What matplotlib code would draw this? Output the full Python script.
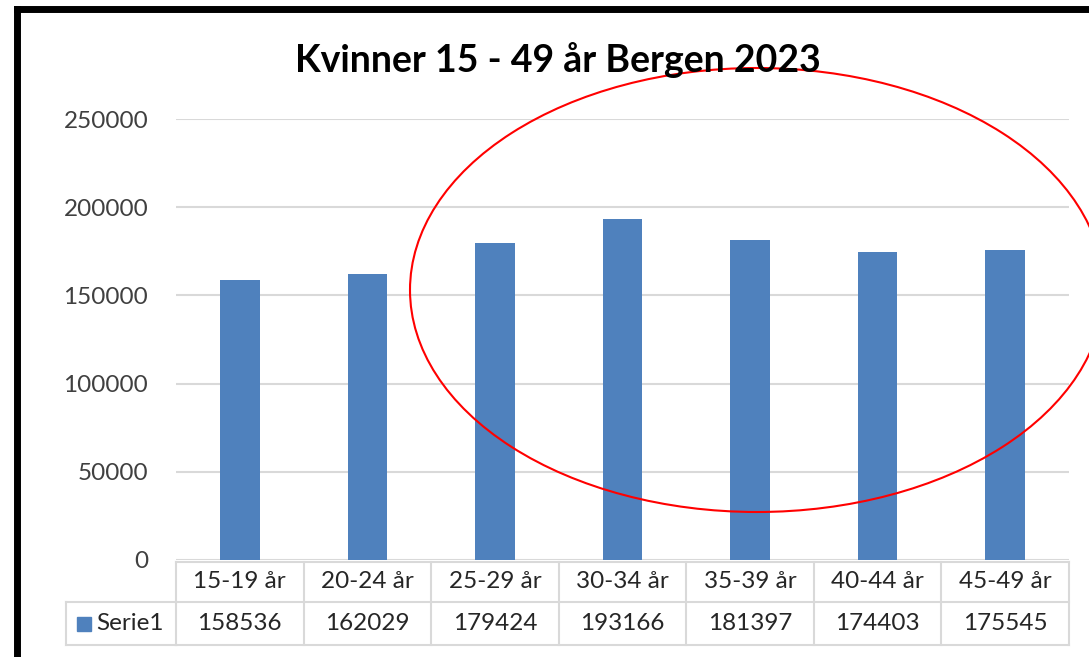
import matplotlib
matplotlib.use("Agg")
import matplotlib.pyplot as plt
from matplotlib.patches import Ellipse, Rectangle

# data
categories = ["15-19 år", "20-24 år", "25-29 år", "30-34 år", "35-39 år", "40-44 år", "45-49 år"]
values = [158536, 162029, 179424, 193166, 181397, 174403, 175545]
series_name = "Serie1"
yticks = [0, 50000, 100000, 150000, 200000, 250000]
title = "Kvinner 15 - 49 år Bergen 2023"

plt.rcParams['font.family'] = ['Lato', 'DejaVu Sans']
fs = 17.5

W, H = 1089, 657
fig = plt.figure(figsize=(W / 100, H / 100), dpi=100)
fig.patch.set_facecolor("white")

# main plot area in pixel terms
left, right, top, bottom = 176, 1069, 119, 560
ax = fig.add_axes([left / W, (H - bottom) / H, (right - left) / W, (bottom - top) / H])
x = list(range(len(categories)))
ax.bar(x, values, width=0.31, color="#4F81BD", zorder=3)
ax.set_xlim(-0.5, len(categories) - 0.5)
ax.set_ylim(0, 250000)
ax.set_yticks(yticks)
ax.set_yticklabels([str(t) for t in yticks], fontsize=fs, color="#404040")
ax.tick_params(axis="y", length=0, pad=20)
ax.set_xticks([])
ax.yaxis.grid(True, color="#d9d9d9", linewidth=1.5, zorder=0)
for s in ax.spines.values():
    s.set_visible(False)

# data table below the plot
grid_c = "#d9d9d9"
tr = ax.get_xaxis_transform()
ph = bottom - top
y_top, y_mid, y_bot = -2 / ph, -42 / ph, -85 / ph
n = len(categories)
for y in (y_top, y_mid, y_bot):
    ax.plot([-0.5, n - 0.5], [y, y], transform=tr, color=grid_c, lw=1.5, clip_on=False)
for i in range(n + 1):
    ax.plot([i - 0.5, i - 0.5], [y_top, y_bot], transform=tr, color=grid_c, lw=1.5, clip_on=False)
for i, (c, v) in enumerate(zip(categories, values)):
    ax.text(i, (y_top + y_mid) / 2, c, transform=tr, ha="center", va="center",
            fontsize=fs, color="#262626")
    ax.text(i, (y_mid + y_bot) / 2, str(v), transform=tr, ha="center", va="center",
            fontsize=fs, color="#262626")

# overlay in pixel coords: legend cell, frame, red ellipse
ov = fig.add_axes([0, 0, 1, 1])
ov.set_xlim(0, W)
ov.set_ylim(H, 0)
ov.axis("off")
ov.patch.set_alpha(0)
ov.plot([66, left], [602, 602], color=grid_c, lw=1.5)
ov.plot([66, left], [645, 645], color=grid_c, lw=1.5)
ov.plot([66, 66], [602, 645], color=grid_c, lw=1.5)
ov.add_patch(Rectangle((77, 617), 14, 14, color="#4F81BD"))
ov.text(96, 624, series_name, ha="left", va="center", fontsize=fs, color="#262626")

ov.text(558, 60, title, ha="center", va="center", fontsize=27, fontweight="bold", color="black")

ov.plot([16.5, 16.5], [H + 5, 9], color="black", lw=5, solid_capstyle="projecting")
ov.plot([16.5, W + 5], [9, 9], color="black", lw=5, solid_capstyle="projecting")

ov.add_patch(Ellipse((757, 290), 2 * 347, 2 * 222, fill=False, edgecolor="red", lw=1.5))

fig.savefig("out.png", dpi=100)
